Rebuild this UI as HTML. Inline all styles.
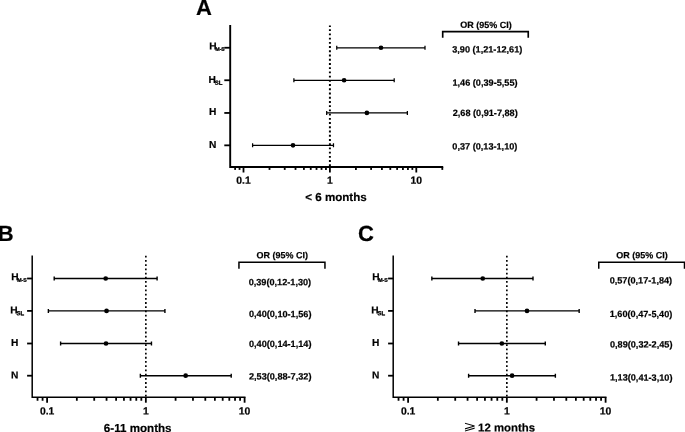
<!DOCTYPE html>
<html><head><meta charset="utf-8"><title>Forest plot</title>
<style>
html,body{margin:0;padding:0;background:#fff;overflow:hidden}
svg{display:block}
text{font-family:"Liberation Sans",sans-serif;font-weight:bold;fill:#000;stroke:#000;stroke-width:0.2px;paint-order:stroke}
.l{font-size:10.2px}
.t{font-size:10.4px}
.x{font-size:11.6px}
.o{font-size:9px}
.v{font-size:9.15px}
.L{font-size:22px}
.g{font-family:"DejaVu Sans",sans-serif;font-weight:normal;font-size:12.6px;stroke:none}
</style></head><body>
<svg width="685" height="432" viewBox="0 0 685 432">
<rect width="685" height="432" fill="#fff"/>
<path d="M235.13 166.95v2.95" stroke="#000" stroke-width="1.8"/>
<path d="M239.55 166.95v2.95" stroke="#000" stroke-width="1.8"/>
<path d="M243.50 166.95v5.55" stroke="#000" stroke-width="1.8"/>
<path d="M269.51 166.95v2.95" stroke="#000" stroke-width="1.8"/>
<path d="M284.72 166.95v2.95" stroke="#000" stroke-width="1.8"/>
<path d="M295.52 166.95v2.95" stroke="#000" stroke-width="1.8"/>
<path d="M303.89 166.95v2.95" stroke="#000" stroke-width="1.8"/>
<path d="M310.73 166.95v2.95" stroke="#000" stroke-width="1.8"/>
<path d="M316.52 166.95v2.95" stroke="#000" stroke-width="1.8"/>
<path d="M321.53 166.95v2.95" stroke="#000" stroke-width="1.8"/>
<path d="M325.95 166.95v2.95" stroke="#000" stroke-width="1.8"/>
<path d="M329.90 166.95v5.55" stroke="#000" stroke-width="1.8"/>
<path d="M355.91 166.95v2.95" stroke="#000" stroke-width="1.8"/>
<path d="M371.12 166.95v2.95" stroke="#000" stroke-width="1.8"/>
<path d="M381.92 166.95v2.95" stroke="#000" stroke-width="1.8"/>
<path d="M390.29 166.95v2.95" stroke="#000" stroke-width="1.8"/>
<path d="M397.13 166.95v2.95" stroke="#000" stroke-width="1.8"/>
<path d="M402.92 166.95v2.95" stroke="#000" stroke-width="1.8"/>
<path d="M407.93 166.95v2.95" stroke="#000" stroke-width="1.8"/>
<path d="M412.35 166.95v2.95" stroke="#000" stroke-width="1.8"/>
<path d="M416.30 166.95v5.55" stroke="#000" stroke-width="1.8"/>
<path d="M442.31 166.95v2.95" stroke="#000" stroke-width="1.8"/>
<path d="M230.2 25V166.95H443.21" fill="none" stroke="#000" stroke-width="1.9" stroke-linejoin="miter"/>
<path d="M329.9 25.5V166.95" stroke="#000" stroke-width="1.95" stroke-dasharray="1.9 2.322" stroke-dashoffset="0.5"/>
<path d="M224.29999999999998 47.75H230.2" stroke="#000" stroke-width="1.8"/>
<path d="M336.74 47.75H425.00M336.74 45.75v4M425.00 45.75v4" stroke="#000" stroke-width="1.25" fill="none"/>
<circle cx="380.97" cy="47.75" r="2.35"/>
<text transform="matrix(1 0.001 0 1 209.25 49.6)" class="l">H</text>
<text transform="matrix(1 0.001 0 1 215.5 50.8)" class="l" style="font-size:5px;stroke-width:0.3px">M-S</text>
<path d="M224.29999999999998 80.26H230.2" stroke="#000" stroke-width="1.8"/>
<path d="M293.89 80.26H394.21M293.89 78.26v4M394.21 78.26v4" stroke="#000" stroke-width="1.25" fill="none"/>
<circle cx="344.10" cy="80.26" r="2.35"/>
<text transform="matrix(1 0.001 0 1 208.4 82.9)" class="l">H</text>
<text transform="matrix(1 0.001 0 1 214.8 84.7)" class="l" style="font-size:6px;stroke-width:0.3px">SL</text>
<path d="M224.29999999999998 112.95H230.2" stroke="#000" stroke-width="1.8"/>
<path d="M326.69 112.95H407.36M326.69 110.95v4M407.36 110.95v4" stroke="#000" stroke-width="1.25" fill="none"/>
<circle cx="366.89" cy="112.95" r="2.35"/>
<text transform="matrix(1 0.001 0 1 209.05 114.9)" class="l">H</text>
<path d="M224.29999999999998 145.35H230.2" stroke="#000" stroke-width="1.8"/>
<path d="M252.59 145.35H333.48M252.59 143.35v4M333.48 143.35v4" stroke="#000" stroke-width="1.25" fill="none"/>
<circle cx="293.00" cy="145.35" r="2.35"/>
<text transform="matrix(1 0.001 0 1 209.05 147.9)" class="l">N</text>
<text transform="matrix(1 0.001 0 1 243.5 183.7)" class="t" text-anchor="middle">0.1</text>
<text transform="matrix(1 0.001 0 1 329.9 183.7)" class="t" text-anchor="middle">1</text>
<text transform="matrix(1 0.001 0 1 416.3 183.7)" class="t" text-anchor="middle">10</text>
<text transform="matrix(1 0.001 0 1 336 201.0)" class="x" text-anchor="middle">&lt; 6 months</text>
<path d="M442.7 37.8V31.55H528.25V37.8" fill="none" stroke="#000" stroke-width="1.65"/>
<text transform="matrix(1 0.001 0 1 486.1 27.9)" class="o" text-anchor="middle">OR (95% CI)</text>
<text transform="matrix(1 0.001 0 1 452.2 52.4)" class="v">3,90 (1,21-12,61)</text>
<text transform="matrix(1 0.001 0 1 452.5 85.8)" class="v">1,46 (0,39-5,55)</text>
<text transform="matrix(1 0.001 0 1 452.7 115.9)" class="v">2,68 (0,91-7,88)</text>
<text transform="matrix(1 0.001 0 1 452.3 149.5)" class="v">0,37 (0,13-1,10)</text>
<text transform="matrix(1 0.001 0 1 196.1 15.0)" class="L">A</text>
<path d="M37.53 397.25v3.50" stroke="#000" stroke-width="1.8"/>
<path d="M42.58 397.25v3.50" stroke="#000" stroke-width="1.8"/>
<path d="M47.10 397.25v5.45" stroke="#000" stroke-width="1.8"/>
<path d="M76.83 397.25v3.50" stroke="#000" stroke-width="1.8"/>
<path d="M94.22 397.25v3.50" stroke="#000" stroke-width="1.8"/>
<path d="M106.55 397.25v3.50" stroke="#000" stroke-width="1.8"/>
<path d="M116.12 397.25v3.50" stroke="#000" stroke-width="1.8"/>
<path d="M123.94 397.25v3.50" stroke="#000" stroke-width="1.8"/>
<path d="M130.55 397.25v3.50" stroke="#000" stroke-width="1.8"/>
<path d="M136.28 397.25v3.50" stroke="#000" stroke-width="1.8"/>
<path d="M141.33 397.25v3.50" stroke="#000" stroke-width="1.8"/>
<path d="M145.85 397.25v5.45" stroke="#000" stroke-width="1.8"/>
<path d="M175.58 397.25v3.50" stroke="#000" stroke-width="1.8"/>
<path d="M192.97 397.25v3.50" stroke="#000" stroke-width="1.8"/>
<path d="M205.30 397.25v3.50" stroke="#000" stroke-width="1.8"/>
<path d="M214.87 397.25v3.50" stroke="#000" stroke-width="1.8"/>
<path d="M222.69 397.25v3.50" stroke="#000" stroke-width="1.8"/>
<path d="M229.30 397.25v3.50" stroke="#000" stroke-width="1.8"/>
<path d="M235.03 397.25v3.50" stroke="#000" stroke-width="1.8"/>
<path d="M240.08 397.25v3.50" stroke="#000" stroke-width="1.8"/>
<path d="M244.60 397.25v5.45" stroke="#000" stroke-width="1.8"/>
<path d="M32.2 255.6V397.25H245.50" fill="none" stroke="#000" stroke-width="1.5" stroke-linejoin="miter"/>
<path d="M145.85 255.8V397.25" stroke="#000" stroke-width="1.65" stroke-dasharray="1.8 2.410" stroke-dashoffset="0"/>
<path d="M27.1 278.5H32.2" stroke="#000" stroke-width="1.8"/>
<path d="M54.20 278.5H157.10M54.20 276.5v4M157.10 276.5v4" stroke="#000" stroke-width="1.4" fill="none"/>
<circle cx="105.69" cy="278.5" r="2.35"/>
<text transform="matrix(1 0.001 0 1 11.35 280.3)" class="l">H</text>
<text transform="matrix(1 0.001 0 1 17.3 281.7)" class="l" style="font-size:5.2px;stroke-width:0.3px">M-S</text>
<path d="M27.1 310.9H32.2" stroke="#000" stroke-width="1.8"/>
<path d="M48.37 310.9H164.92M48.37 308.9v4M164.92 308.9v4" stroke="#000" stroke-width="1.4" fill="none"/>
<circle cx="106.55" cy="310.9" r="2.35"/>
<text transform="matrix(1 0.001 0 1 10.35 313.6)" class="l">H</text>
<text transform="matrix(1 0.001 0 1 16.6 315.3)" class="l" style="font-size:6px;stroke-width:0.3px">SL</text>
<path d="M27.1 343.5H32.2" stroke="#000" stroke-width="1.8"/>
<path d="M60.60 343.5H151.47M60.60 341.5v4M151.47 341.5v4" stroke="#000" stroke-width="1.4" fill="none"/>
<circle cx="106.01" cy="343.5" r="2.35"/>
<text transform="matrix(1 0.001 0 1 11.0 346.0)" class="l">H</text>
<path d="M27.1 375.7H32.2" stroke="#000" stroke-width="1.8"/>
<path d="M140.37 375.7H231.22M140.37 373.7v4M231.22 373.7v4" stroke="#000" stroke-width="1.4" fill="none"/>
<circle cx="185.66" cy="375.7" r="2.35"/>
<text transform="matrix(1 0.001 0 1 11.0 378.6)" class="l">N</text>
<text transform="matrix(1 0.001 0 1 47.1 414.5)" class="t" text-anchor="middle">0.1</text>
<text transform="matrix(1 0.001 0 1 145.85 414.5)" class="t" text-anchor="middle">1</text>
<text transform="matrix(1 0.001 0 1 244.6 414.5)" class="t" text-anchor="middle">10</text>
<text transform="matrix(1 0.001 0 1 137.7 432)" class="x" text-anchor="middle">6-11 months</text>
<path d="M238.95 268.8V262.25H324.95V268.8" fill="none" stroke="#000" stroke-width="1.5"/>
<text transform="matrix(1 0.001 0 1 282.25 258.3)" class="o" text-anchor="middle">OR (95% CI)</text>
<text transform="matrix(1 0.001 0 1 248.65 285.3)" class="v">0,39(0,12-1,30)</text>
<text transform="matrix(1 0.001 0 1 248.95 317.1)" class="v">0,40(0,10-1,56)</text>
<text transform="matrix(1 0.001 0 1 248.95 346.9)" class="v">0,40(0,14-1,14)</text>
<text transform="matrix(1 0.001 0 1 248.95 379.4)" class="v">2,53(0,88-7,32)</text>
<text transform="matrix(1 0.001 0 1 -2.3 241.0)" class="L">B</text>
<path d="M398.53 397.25v3.50" stroke="#000" stroke-width="1.8"/>
<path d="M403.58 397.25v3.50" stroke="#000" stroke-width="1.8"/>
<path d="M408.10 397.25v5.45" stroke="#000" stroke-width="1.8"/>
<path d="M437.83 397.25v3.50" stroke="#000" stroke-width="1.8"/>
<path d="M455.22 397.25v3.50" stroke="#000" stroke-width="1.8"/>
<path d="M467.55 397.25v3.50" stroke="#000" stroke-width="1.8"/>
<path d="M477.12 397.25v3.50" stroke="#000" stroke-width="1.8"/>
<path d="M484.94 397.25v3.50" stroke="#000" stroke-width="1.8"/>
<path d="M491.55 397.25v3.50" stroke="#000" stroke-width="1.8"/>
<path d="M497.28 397.25v3.50" stroke="#000" stroke-width="1.8"/>
<path d="M502.33 397.25v3.50" stroke="#000" stroke-width="1.8"/>
<path d="M506.85 397.25v5.45" stroke="#000" stroke-width="1.8"/>
<path d="M536.58 397.25v3.50" stroke="#000" stroke-width="1.8"/>
<path d="M553.97 397.25v3.50" stroke="#000" stroke-width="1.8"/>
<path d="M566.30 397.25v3.50" stroke="#000" stroke-width="1.8"/>
<path d="M575.87 397.25v3.50" stroke="#000" stroke-width="1.8"/>
<path d="M583.69 397.25v3.50" stroke="#000" stroke-width="1.8"/>
<path d="M590.30 397.25v3.50" stroke="#000" stroke-width="1.8"/>
<path d="M596.03 397.25v3.50" stroke="#000" stroke-width="1.8"/>
<path d="M601.08 397.25v3.50" stroke="#000" stroke-width="1.8"/>
<path d="M605.60 397.25v5.45" stroke="#000" stroke-width="1.8"/>
<path d="M393.2 255.6V397.25H606.50" fill="none" stroke="#000" stroke-width="1.5" stroke-linejoin="miter"/>
<path d="M506.85 255.8V397.25" stroke="#000" stroke-width="1.65" stroke-dasharray="1.8 2.410" stroke-dashoffset="0"/>
<path d="M388.09999999999997 278.5H393.2" stroke="#000" stroke-width="1.8"/>
<path d="M431.85 278.5H533.00M431.85 276.5v4M533.00 276.5v4" stroke="#000" stroke-width="1.4" fill="none"/>
<circle cx="482.74" cy="278.5" r="2.35"/>
<text transform="matrix(1 0.001 0 1 372.35 280.3)" class="l">H</text>
<text transform="matrix(1 0.001 0 1 378.3 281.7)" class="l" style="font-size:5.2px;stroke-width:0.3px">M-S</text>
<path d="M388.09999999999997 310.9H393.2" stroke="#000" stroke-width="1.8"/>
<path d="M475.01 310.9H579.17M475.01 308.9v4M579.17 308.9v4" stroke="#000" stroke-width="1.4" fill="none"/>
<circle cx="527.01" cy="310.9" r="2.35"/>
<text transform="matrix(1 0.001 0 1 371.35 313.6)" class="l">H</text>
<text transform="matrix(1 0.001 0 1 377.6 315.3)" class="l" style="font-size:6px;stroke-width:0.3px">SL</text>
<path d="M388.09999999999997 343.5H393.2" stroke="#000" stroke-width="1.8"/>
<path d="M458.52 343.5H545.28M458.52 341.5v4M545.28 341.5v4" stroke="#000" stroke-width="1.4" fill="none"/>
<circle cx="501.85" cy="343.5" r="2.35"/>
<text transform="matrix(1 0.001 0 1 372.0 346.0)" class="l">H</text>
<path d="M388.09999999999997 375.7H393.2" stroke="#000" stroke-width="1.8"/>
<path d="M468.61 375.7H555.37M468.61 373.7v4M555.37 373.7v4" stroke="#000" stroke-width="1.4" fill="none"/>
<circle cx="512.09" cy="375.7" r="2.35"/>
<text transform="matrix(1 0.001 0 1 372.0 378.6)" class="l">N</text>
<text transform="matrix(1 0.001 0 1 408.1 414.5)" class="t" text-anchor="middle">0.1</text>
<text transform="matrix(1 0.001 0 1 506.85 414.5)" class="t" text-anchor="middle">1</text>
<text transform="matrix(1 0.001 0 1 605.6 414.5)" class="t" text-anchor="middle">10</text>
<text transform="matrix(1 0.001 0 1 506.6 431.6)" class="x" text-anchor="middle" style="font-size:11.4px">12 months</text>
<path d="M598.75 268.7V262.25H684.5V268.7" fill="none" stroke="#000" stroke-width="1.5"/>
<text transform="matrix(1 0.001 0 1 641.9 258.3)" class="o" text-anchor="middle">OR (95% CI)</text>
<text transform="matrix(1 0.001 0 1 609.65 283.4)" class="v">0,57(0,17-1,84)</text>
<text transform="matrix(1 0.001 0 1 609.75 317.1)" class="v">1,60(0,47-5,40)</text>
<text transform="matrix(1 0.001 0 1 609.95 347.4)" class="v">0,89(0,32-2,45)</text>
<text transform="matrix(1 0.001 0 1 609.95 380.6)" class="v">1,13(0,41-3,10)</text>
<text class="g" transform="translate(463.6 430) scale(1.23 1)">⩾</text>
<text transform="matrix(1 0.001 0 1 358.1 241.1)" class="L">C</text>
</svg>
</body></html>
